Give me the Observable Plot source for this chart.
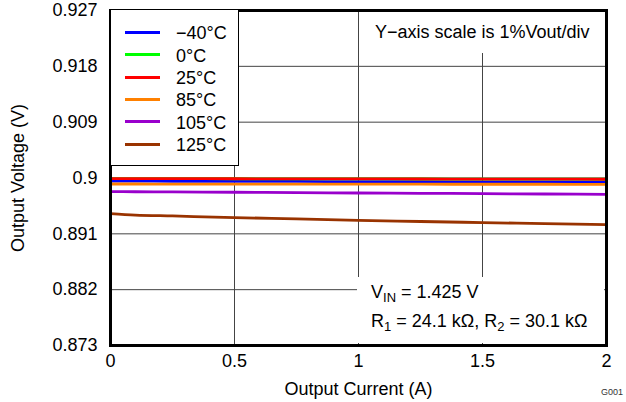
<!DOCTYPE html>
<html>
<head>
<meta charset="utf-8">
<script src="https://cdn.jsdelivr.net/npm/d3@7"></script>
<script src="https://cdn.jsdelivr.net/npm/@observablehq/plot@0.6"></script>
<style>
  html, body { margin: 0; padding: 0; background: white; }
  #wrap { position: relative; width: 626px; height: 402px; font-family: "Liberation Sans", Arial, sans-serif; color: black; overflow: hidden; }
  .box { position: absolute; background: white; }
  .t { position: absolute; white-space: nowrap; font-size: 18px; line-height: 1; }
  sub { font-size: 13px; vertical-align: -4px; line-height: 0; }
</style>
</head>
<body>
<div id="wrap"></div>
<script>
// ---- data ----
const temps = ["\u221240°C", "0°C", "25°C", "85°C", "105°C", "125°C"];
const colors = ["#0000ff", "#00ff00", "#ff0000", "#ff8000", "#9900cc", "#993300"];
const current = [0, 0.1, 0.25, 0.5, 0.75, 1, 1.25, 1.5, 1.75, 2];
const vM40 = [0.89951, 0.8995, 0.89948, 0.89946, 0.89944, 0.89942, 0.8994, 0.89938, 0.89937, 0.89935];
const v0   = [0.8999, 0.8999, 0.89989, 0.89988, 0.89986, 0.89985, 0.89984, 0.89982, 0.89981, 0.8998];
const v25  = [0.8999, 0.8999, 0.89989, 0.89988, 0.89986, 0.89985, 0.89984, 0.89982, 0.89981, 0.8998];
const v85  = [0.89903, 0.89903, 0.89902, 0.89902, 0.89901, 0.899, 0.899, 0.89899, 0.89899, 0.89898];
const v105 = [0.8978, 0.89778, 0.89775, 0.8977, 0.89764, 0.89758, 0.89753, 0.89748, 0.89742, 0.89737];
const v125 = [0.89426, 0.89403, 0.89388, 0.89362, 0.8934, 0.89318, 0.89299, 0.89281, 0.89265, 0.89249];
const xTicks = [0, 0.5, 1, 1.5, 2];
const yTicks = [0.873, 0.882, 0.891, 0.9, 0.909, 0.918, 0.927];
const series = [vM40, v0, v25, v85, v105, v125];

const rows = [];
series.forEach((vals, i) => vals.forEach((v, j) => rows.push({temp: temps[i], x: current[j], y: v})));

const W = 626, H = 402;
const mL = 110, mR = 20, mT = 10, mB = 57;

const chart = Plot.plot({
  width: W, height: H,
  marginLeft: mL, marginRight: mR, marginTop: mT, marginBottom: mB,
  style: {fontFamily: "Liberation Sans, Arial, sans-serif", fontSize: "18px", color: "black", background: "white"},
  x: {domain: [0, 2]},
  y: {domain: [0.873, 0.927]},
  color: {domain: temps, range: colors},
  marks: [
    Plot.gridX(xTicks.slice(1, -1), {stroke: "#444", strokeOpacity: 1, strokeWidth: 1}),
    Plot.gridY(yTicks.slice(1, -1), {stroke: "#444", strokeOpacity: 1, strokeWidth: 1}),
    Plot.line(rows, {x: "x", y: "y", z: "temp", stroke: "temp", strokeWidth: 2.8, curve: "monotone-x"}),
    Plot.axisX({ticks: xTicks, tickSize: 0, tickPadding: 9, tickFormat: d => String(d), label: "Output Current (A)", labelAnchor: "center", labelArrow: "none", labelOffset: 49}),
    Plot.axisY({ticks: yTicks, tickSize: 0, tickPadding: 13, tickFormat: d => String(d), label: "Output Voltage (V)", labelAnchor: "center", labelArrow: "none", labelOffset: 99}),
    Plot.frame({stroke: "black", strokeWidth: 3})
  ]
});

const wrap = document.getElementById("wrap");
wrap.appendChild(chart);

function add(html, cls, css) {
  const d = document.createElement("div");
  d.className = cls;
  Object.assign(d.style, css);
  d.innerHTML = html;
  wrap.appendChild(d);
  return d;
}

// legend
add("", "box", {left: "110px", top: "9px", width: "127px", height: "155px", border: "1.5px solid black"});
temps.forEach((t, i) => {
  const cy = 32.3 + i * 22.35;
  add("", "box", {left: "125px", top: (cy - 1.5) + "px", width: "35px", height: "3px", background: colors[i]});
  add(t, "t", {left: "176px", top: (cy - 8) + "px"});
});

// top-right note
add("", "box", {left: "362px", top: "12px", width: "242px", height: "41px"});
add("Y\u2212axis scale is 1%Vout/div", "t", {left: "375px", top: "23px"});

// bottom-right note
add("", "box", {left: "357px", top: "277px", width: "247px", height: "66px"});
add("V<sub>IN</sub> = 1.425 V", "t", {left: "371px", top: "283px"});
add("R<sub>1</sub> = 24.1 k\u03A9, R<sub>2</sub> = 30.1 k\u03A9", "t", {left: "371px", top: "312px"});

// figure id
add("G001", "t", {left: "601px", top: "388px", fontSize: "9px", color: "#333"});
</script>
</body>
</html>
